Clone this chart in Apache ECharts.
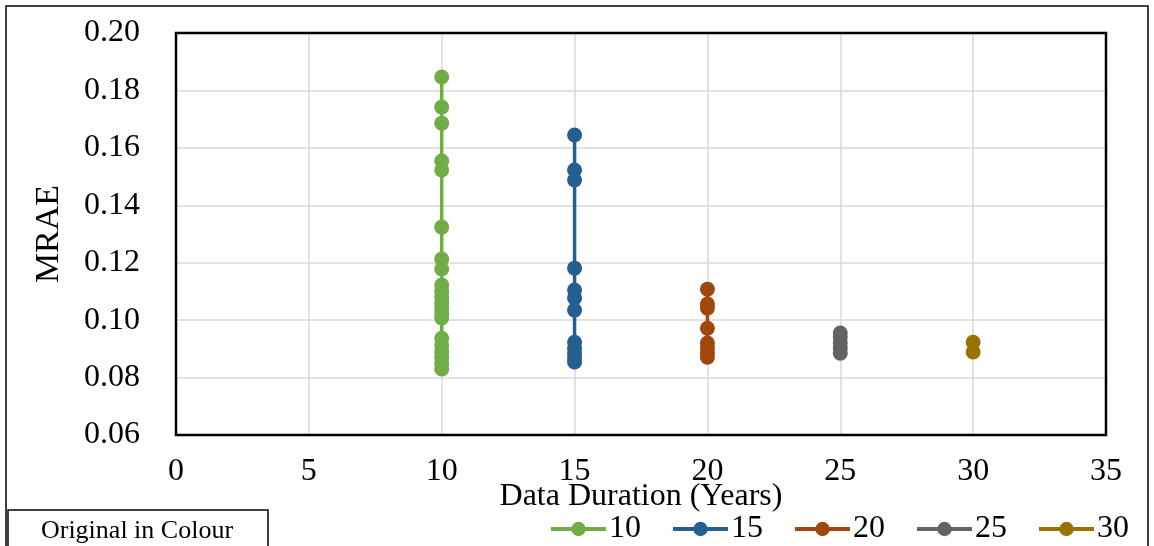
<!DOCTYPE html>
<html>
<head>
<meta charset="utf-8">
<script src="https://cdn.jsdelivr.net/npm/echarts@6/dist/echarts.min.js"></script>
<style>
html,body{margin:0;padding:0;background:#fff;}
#c{width:1154px;height:546px;}
</style>
</head>
<body>
<div id="c"></div>
<script>
const seriesNames = ['10', '15', '20', '25', '30'];
const durations = [10, 15, 20, 25, 30];
const mrae10 = [0.1847, 0.1742, 0.1686, 0.1554, 0.1523, 0.1324, 0.1213, 0.1178, 0.1122, 0.1100, 0.1080, 0.1060, 0.1040, 0.1022, 0.1008, 0.0937, 0.0912, 0.0890, 0.0870, 0.0850, 0.0830];
const mrae15 = [0.1645, 0.1523, 0.1488, 0.1181, 0.1105, 0.1077, 0.1035, 0.0923, 0.0902, 0.0885, 0.0868, 0.0854];
const mrae20 = [0.1108, 0.1056, 0.1042, 0.0972, 0.0920, 0.0903, 0.0885, 0.0871];
const mrae25 = [0.0955, 0.0940, 0.0920, 0.0903, 0.0885];
const mrae30 = [0.0923, 0.0889];
const xTicks = [0, 5, 10, 15, 20, 25, 30, 35];
const yTicks = [0.06, 0.08, 0.10, 0.12, 0.14, 0.16, 0.18, 0.20];
const colors = ['#70AD47', '#255E91', '#9E480E', '#636363', '#997300'];

const allValues = [mrae10, mrae15, mrae20, mrae25, mrae30];
const font = '"Liberation Serif", "Times New Roman", serif';

const chart = echarts.init(document.getElementById('c'), null, {renderer: 'canvas'});
const series = seriesNames.map((name, i) => ({
  name: name,
  type: 'line',
  data: allValues[i].map(v => [durations[i], v]),
  symbol: 'circle',
  symbolSize: 15,
  lineStyle: {width: 3.5, color: colors[i]},
  itemStyle: {color: colors[i]},
  animation: false,
  z: 3
}));

chart.setOption({
  animation: false,
  color: colors,
  grid: {left: 176, top: 33, width: 930, height: 402, show: false},
  xAxis: {
    type: 'value', min: xTicks[0], max: xTicks[xTicks.length - 1], interval: 5,
    axisLine: {show: false}, axisTick: {show: false},
    splitLine: {show: true, lineStyle: {color: '#d9d9d9', width: 1.5}},
    axisLabel: {color: '#000', fontFamily: font, fontSize: 32, margin: 21},
    name: 'Data Duration (Years)', nameLocation: 'middle', nameGap: 46, nameMoveOverlap: false,
    nameTextStyle: {color: '#000', fontFamily: font, fontSize: 32}
  },
  yAxis: {
    type: 'value', min: yTicks[0], max: yTicks[yTicks.length - 1], interval: 0.02,
    axisLine: {show: false}, axisTick: {show: false},
    splitLine: {show: true, lineStyle: {color: '#d9d9d9', width: 1.5}},
    axisLabel: {color: '#000', fontFamily: font, fontSize: 32, margin: 36, formatter: v => v.toFixed(2)},
    name: 'MRAE', nameLocation: 'middle', nameGap: 110, nameMoveOverlap: false,
    nameTextStyle: {color: '#000', fontFamily: font, fontSize: 34}
  },
  legend: {
    data: seriesNames, right: 20, top: 508, itemWidth: 55, itemHeight: 18, itemGap: 30,
    lineStyle: {width: 4},
    textStyle: {color: '#000', fontFamily: font, fontSize: 32, padding: [0, 0, 0, -2]}
  },
  graphic: [
    {type: 'rect', shape: {x: 6, y: 6, width: 1142, height: 560}, style: {fill: 'none', stroke: '#000', lineWidth: 1.5}, silent: true},
    {type: 'rect', shape: {x: 176, y: 33, width: 930, height: 402}, style: {fill: 'none', stroke: '#000', lineWidth: 2.5}, silent: true, z: 1},
    {type: 'rect', shape: {x: 8, y: 510, width: 260, height: 50}, style: {fill: '#fff', stroke: '#000', lineWidth: 1.5}, silent: true},
    {type: 'text', x: 137, y: 531, style: {text: 'Original in Colour', fill: '#000', font: '26px ' + font, textAlign: 'center', textVerticalAlign: 'middle'}, silent: true}
  ],
  series: series
});
</script>
</body>
</html>
